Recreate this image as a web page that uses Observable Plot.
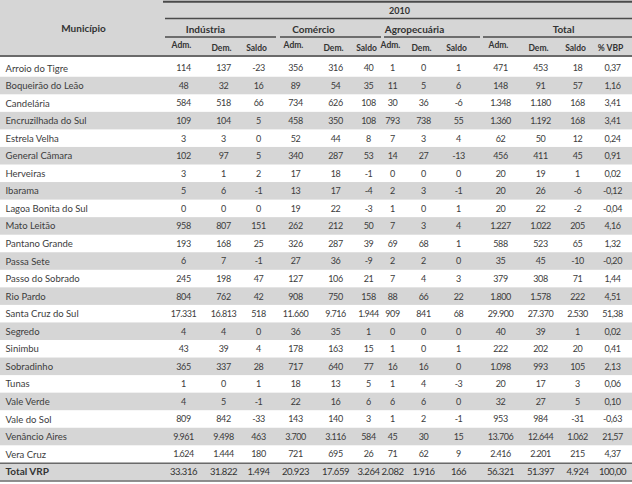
<!DOCTYPE html>
<html>
<head>
<meta charset="utf-8">
<script src="https://cdn.jsdelivr.net/npm/d3@7"></script>
<script src="https://cdn.jsdelivr.net/npm/@observablehq/plot@0.6"></script>
<style>
  html, body { margin: 0; padding: 0; background: #fff; }
  #chart svg { display: block; }
</style>
</head>
<body>
<div id="chart"></div>
<script>
// ---------- data ----------
const municipios = ["Arroio do Tigre","Boqueirão do Leão","Candelária","Encruzilhada do Sul","Estrela Velha","General Câmara","Herveiras","Ibarama","Lagoa Bonita do Sul","Mato Leitão","Pantano Grande","Passa Sete","Passo do Sobrado","Rio Pardo","Santa Cruz do Sul","Segredo","Sinimbu","Sobradinho","Tunas","Vale Verde","Vale do Sol","Venâncio Aires","Vera Cruz"];
const industriaAdm   = [114,48,584,109,3,102,3,5,0,958,193,6,245,804,17331,4,43,365,1,4,809,9961,1624];
const industriaDem   = [137,32,518,104,3,97,1,6,0,807,168,7,198,762,16813,4,39,337,0,5,842,9498,1444];
const industriaSaldo = [-23,16,66,5,0,5,2,-1,0,151,25,-1,47,42,518,0,4,28,1,-1,-33,463,180];
const comercioAdm    = [356,89,734,458,52,340,17,13,19,262,326,27,127,908,11660,36,178,717,18,22,143,3700,721];
const comercioDem    = [316,54,626,350,44,287,18,17,22,212,287,36,106,750,9716,35,163,640,13,16,140,3116,695];
const comercioSaldo  = [40,35,108,108,8,53,-1,-4,-3,50,39,-9,21,158,1944,1,15,77,5,6,3,584,26];
const agroAdm        = [1,11,30,793,7,14,0,2,1,7,69,2,7,88,909,0,1,16,1,6,1,45,71];
const agroDem        = [0,5,36,738,3,27,0,3,0,3,68,2,4,66,841,0,0,16,4,6,2,30,62];
const agroSaldo      = [1,6,-6,55,4,-13,0,-1,1,4,1,0,3,22,68,0,1,0,-3,0,-1,15,9];
const totalAdm       = [471,148,1348,1360,62,456,20,20,20,1227,588,35,379,1800,29900,40,222,1098,20,32,953,13706,2416];
const totalDem       = [453,91,1180,1192,50,411,19,26,22,1022,523,45,308,1578,27370,39,202,993,17,27,984,12644,2201];
const totalSaldo     = [18,57,168,168,12,45,1,-6,-2,205,65,-10,71,222,2530,1,20,105,3,5,-31,1062,215];
const pctVBP         = [0.37,1.16,3.41,3.41,0.24,0.91,0.02,-0.12,-0.04,4.16,1.32,-0.20,1.44,4.51,51.38,0.02,0.41,2.13,0.06,0.10,-0.63,21.57,4.37];
const totalLabel = "Total VRP";
const totalVRP = [33316,31822,1494,20923,17659,3264,2082,1916,166,56321,51397,4924,100.00];

const yearLabel = "2010";
const firstHeader = "Município";
const groupLabels = ["Indústria","Comércio","Agropecuária","Total"];
const subLabels = ["Adm.","Dem.","Saldo","Adm.","Dem.","Saldo","Adm.","Dem.","Saldo","Adm.","Dem.","Saldo","% VBP"];

// ---------- layout ----------
const W = 632, H = 484;
const rowH = 17.55, bodyTop = 59.2;
const hy = px => (px - bodyTop) / rowH;        // pixel -> row units (layout helper)
const colX = [183,223,258,295,335,368,392,423,458,500,540,577,612];
const groupX = [205,313,414,563];
const groupSpan = [[165,276],[280,381],[384,480],[483,632]];

const series = [industriaAdm,industriaDem,industriaSaldo,comercioAdm,comercioDem,comercioSaldo,agroAdm,agroDem,agroSaldo,totalAdm,totalDem,totalSaldo,pctVBP];

const loc = d3.formatLocale({decimal: ",", thousands: ".", grouping: [3], currency: ["R$", ""], minus: "-"});
const fInt = loc.format(",d");
const fPct = loc.format(",.2f");
const fmt = (v, c) => c === 12 ? fPct(v) : fInt(v);

const cells = [];
municipios.forEach((m, i) => {
  series.forEach((s, c) => cells.push({row: i, col: c, text: fmt(s[i], c)}));
});
const totalRow = municipios.length;
const totalCells = totalVRP.map((v, c) => ({row: totalRow, col: c, text: fmt(v, c)}));
const names = municipios.map((m, i) => ({row: i, text: m}));
const stripes = municipios.map((m, i) => i).filter(i => i % 2 === 1);

const textColor = "#3c3c3c";
const gray = "#d6d6d6";
const font = "Lato, 'Liberation Sans', sans-serif";

const chart = Plot.plot({
  width: W, height: H,
  margin: 0,
  x: {type: "linear", domain: [0, W], range: [0, W], axis: null},
  y: {type: "linear", domain: [hy(0), hy(H)], range: [0, H], axis: null},
  style: {fontFamily: font, fontSize: "9.5px", color: textColor, background: "#fff"},
  marks: [
    Plot.rect([0], {x1: 0, x2: W, y1: hy(0), y2: hy(55), fill: gray}),
    Plot.rect(stripes, {x1: 0, x2: W, y1: d => d, y2: d => d + 1, fill: gray}),
    Plot.rect([totalRow], {x1: 0, x2: W, y1: d => d, y2: d => d + 1, fill: gray}),
    Plot.ruleY([hy(1.2)], {x1: 163, x2: W, stroke: "#4a4a4a", strokeWidth: 2}),
    Plot.ruleY([hy(18)], {x1: 165, x2: W, stroke: "#4a4a4a", strokeWidth: 1.5}),
    Plot.ruleY(groupSpan, {y: () => hy(36.5), x1: d => d[0], x2: d => d[1], stroke: "#4a4a4a", strokeWidth: 1.5}),
    Plot.ruleY([hy(55.5)], {x1: 0, x2: W, stroke: "#6a6a6a", strokeWidth: 2}),
    Plot.ruleY([totalRow], {x1: 0, x2: W, stroke: "#6a6a6a", strokeWidth: 1.5}),
    Plot.ruleY([totalRow + 1], {x1: 0, x2: W, stroke: "#6a6a6a", strokeWidth: 1.5}),
    Plot.text([firstHeader], {x: 83, y: hy(28), text: d => d, fontWeight: "bold", fill: "#333", fontSize: 10}),
    Plot.text([yearLabel], {x: 399, y: hy(11), text: d => d, fontWeight: "bold", fill: "#333", fontSize: 9}),
    Plot.text(groupLabels, {x: (d, i) => groupX[i], y: hy(29.5), text: d => d, fontWeight: "bold", fill: "#333", fontSize: 10}),
    Plot.text(subLabels, {x: (d, i) => colX[i] - 2, y: (d, i) => hy(d === "Adm." ? 45 : 47.5), text: d => d, fontWeight: "bold", fill: "#333", fontSize: 8.5}),
    Plot.text(names, {x: 5, y: d => d.row + 0.5, text: "text", textAnchor: "start", fill: textColor}),
    Plot.text(cells, {x: d => colX[d.col], y: d => d.row + 0.5, text: "text", fill: textColor, fontSize: 9}),
    Plot.text([totalLabel], {x: 5, y: totalRow + 0.5, text: d => d, textAnchor: "start", fontWeight: "bold", fill: "#333", fontSize: 10}),
    Plot.text(totalCells, {x: d => colX[d.col], y: d => d.row + 0.5, text: "text", fill: "#333", fontSize: 9.5})
  ]
});
// narrow the numeric digits (the source uses a condensed face)
d3.select(chart).selectAll("text")
  .filter(function () { return /^-?[\d.,]+$/.test(this.textContent) && this.textContent !== "2010"; })
  .style("letter-spacing", "-0.45px");
document.getElementById("chart").appendChild(chart);
</script>
</body>
</html>
